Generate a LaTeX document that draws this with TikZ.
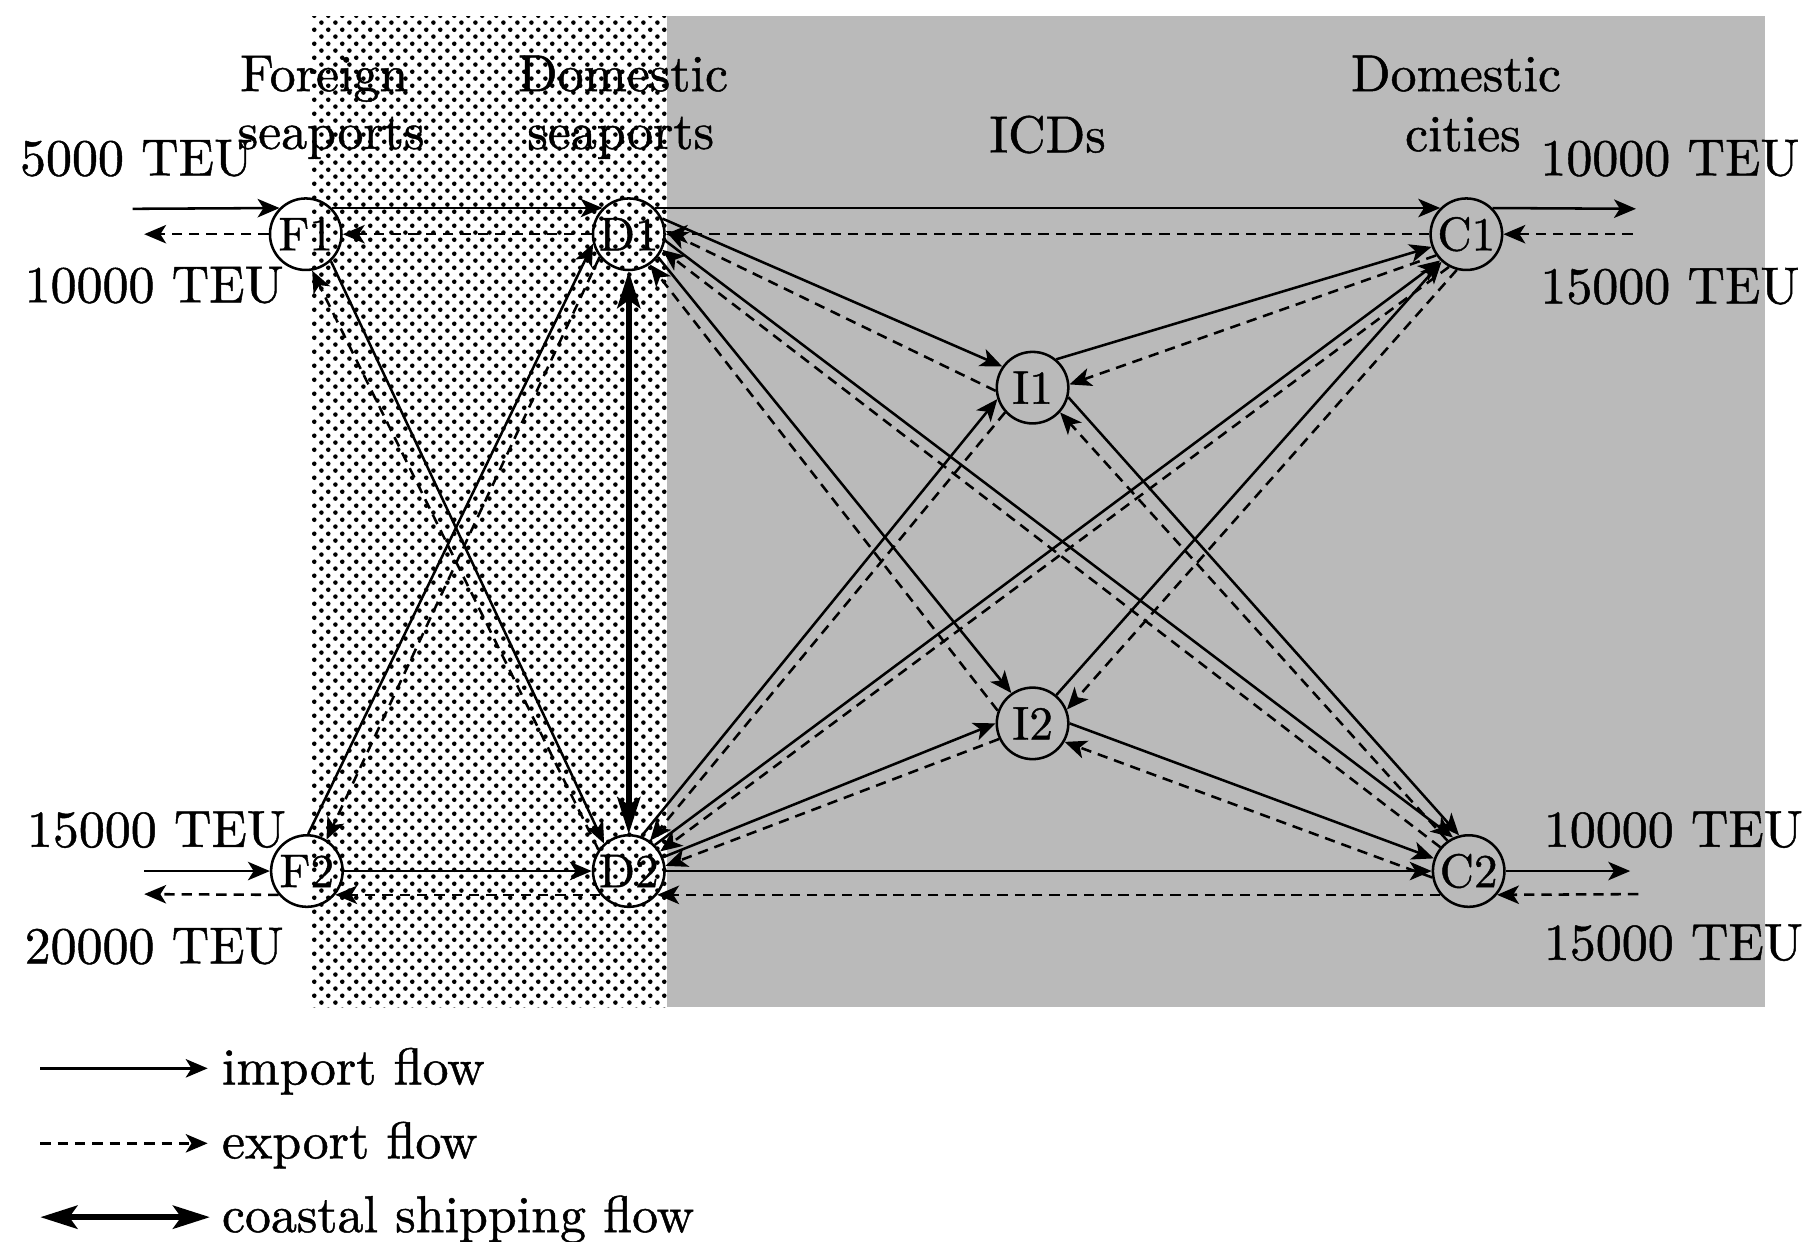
\documentclass[tikz,border=0pt]{standalone}
\usepackage{fontspec}
\newfontfamily\heavy{lmroman10-regular.otf}[FakeBold=0.9]
\usetikzlibrary{arrows.meta,patterns.meta}
\tikzdeclarepattern{
  name=stipple,
  type=uncolored,
  bounding box={(0pt,0pt) and (6pt,6pt)},
  tile size={(6pt,6pt)},
  code={
    \fill (1.5pt,1.5pt) circle (1pt);
    \fill (4.5pt,4.5pt) circle (1pt);
  }
}
\newcommand\labfont{\heavy\fontsize{22.5}{26}\selectfont}
\newcommand\hubfont{\heavy\fontsize{20.5}{24}\selectfont}
\begin{document}
\begin{tikzpicture}[x=0.5pt,y=-0.5pt,
  every node/.style={font=\labfont, inner sep=0pt},
  hub/.style={circle, draw, line width=1.1pt, minimum size=31pt, inner sep=0pt, font=\hubfont},
  imp/.style={line width=1.1pt, -{Stealth[length=9.5pt,width=8pt,inset=2.5pt]}},
  exp/.style={line width=1.1pt, dash pattern=on 4.5pt off 3pt, -{Stealth[length=9.5pt,width=8pt,inset=2.5pt]}},
  coast/.style={line width=2.6pt, {Stealth[length=16pt,width=10pt,inset=3.5pt]}-{Stealth[length=16pt,width=10pt,inset=3.5pt]}},
]
\useasboundingbox (0,0) rectangle (1568,1076);
\fill[white] (0,0) rectangle (1568,1076);
% backgrounds
\fill[black!27] (578,14) rectangle (1530,873);
\fill[white] (270,14) rectangle (578,873);
\fill[pattern=stipple, pattern color=black] (270,14) rectangle (578,873);

% column headings
\node[anchor=base] (hF)  at (281,79)  {Foreign};
\node[anchor=base] (hFs) at (287,129) {seaports};
\node[anchor=base] (hD)  at (540,79)  {Domestic};
\node[anchor=base] (hDs) at (538,129) {seaports};
\node[anchor=base] (hI)  at (908,132) {ICDs};
\node[anchor=base] (hC)  at (1262,79) {Domestic};
\node[anchor=base] (hCs) at (1268,131) {cities};

% quantities
\node[anchor=base west] (q1) at (17,152)  {5000 TEU};
\node[anchor=base west] (q2) at (21,262)  {10000 TEU};
\node[anchor=base west] (q3) at (23,734)  {15000 TEU};
\node[anchor=base west] (q4) at (21,835)  {20000 TEU};
\node[anchor=base east] (q5) at (1560,152) {10000 TEU};
\node[anchor=base east] (q6) at (1560,263) {15000 TEU};
\node[anchor=base east] (q7) at (1563,734) {10000 TEU};
\node[anchor=base east] (q8) at (1563,832) {15000 TEU};

% hubs
\node[hub] (F1) at (265,203) {F1};
\node[hub] (D1) at (545,203) {D1};
\node[hub] (C1) at (1271,203) {C1};
\node[hub] (I1) at (895,336) {I1};
\node[hub] (I2) at (895,627) {I2};
\node[hub] (F2) at (266,755) {F2};
\node[hub] (D2) at (545,755) {D2};
\node[hub] (C2) at (1273,755) {C2};

% free ends
\coordinate (e1) at (115,181);
\coordinate (e2) at (125,203);
\coordinate (e3) at (1418,181);
\coordinate (e4) at (1415,203);
\coordinate (e5) at (125,755);
\coordinate (e6) at (125,775);
\coordinate (e7) at (1413,755);
\coordinate (e8) at (1420,775);

% top row
\draw[imp] (e1) -- (F1.135);
\draw[exp] (F1.west) -- (e2);
\draw[imp] (F1.45) -- (D1.135);
\draw[exp] (D1.west) -- (F1.east);
\draw[imp] (D1.45) -- (C1.135);
\draw[exp] (C1.west) -- (D1.east);
\draw[imp] (C1.45) -- (e3);
\draw[exp] (e4) -- (C1.east);
% bottom row
\draw[imp] (e5) -- (F2.west);
\draw[exp] (F2.220) -- (e6);
\draw[imp] (F2.east) -- (D2.west);
\draw[exp] (D2.220) -- (F2.320);
\draw[imp] (D2.east) -- (C2.west);
\draw[exp] (C2.220) -- (D2.320);
\draw[imp] (C2.east) -- (e7);
\draw[exp] (e8) -- (C2.320);
% coastal shipping
\draw[coast] (D1.south) -- (D2.north);
% foreign crossings
\draw[imp] (F1.313) -- (D2.132);
\draw[exp] (D2.145) -- (F1.280);
\draw[imp] (F2.88) -- (D1.195);
\draw[exp] (D1.218) -- (F2.58);
% D1 fan
\draw[imp] (D1.25) -- (I1.145);
\draw[exp] (I1.185) -- (D1.5);
\draw[imp] (D1.350) -- (C2.115);
\draw[exp] (C2.140) -- (D1.335);
\draw[imp] (D1.322) -- (I2.125);
\draw[exp] (I2.160) -- (D1.305);
% D2 fan
\draw[imp] (D2.70) -- (I1.198);
\draw[exp] (I1.222) -- (D2.55);
\draw[imp] (D2.45) -- (C1.225);
\draw[exp] (C1.242) -- (D2.32);
\draw[imp] (D2.22) -- (I2.180);
\draw[exp] (I2.205) -- (D2.8);
% ICDs to cities
\draw[imp] (I1.50) -- (C1.200);
\draw[exp] (C1.215) -- (I1.5);
\draw[imp] (I1.345) -- (C2.105);
\draw[exp] (C2.125) -- (I1.318);
\draw[imp] (I2.50) -- (C1.228);
\draw[exp] (C1.255) -- (I2.22);
\draw[imp] (I2.0) -- (C2.160);
\draw[exp] (C2.190) -- (I2.330);

% legend
\coordinate (la) at (35,926);  \coordinate (lb) at (180,926);
\coordinate (lc) at (35,991);  \coordinate (ld) at (180,991);
\coordinate (le) at (35,1055); \coordinate (lf) at (182,1055);
\draw[imp] (la) -- (lb);
\draw[exp] (lc) -- (ld);
\draw[coast] (le) -- (lf);
\node[anchor=base west] (lg1) at (192,940)  {import flow};
\node[anchor=base west] (lg2) at (192,1004) {export flow};
\node[anchor=base west] (lg3) at (192,1068) {coastal shipping flow};
\end{tikzpicture}
\end{document}
